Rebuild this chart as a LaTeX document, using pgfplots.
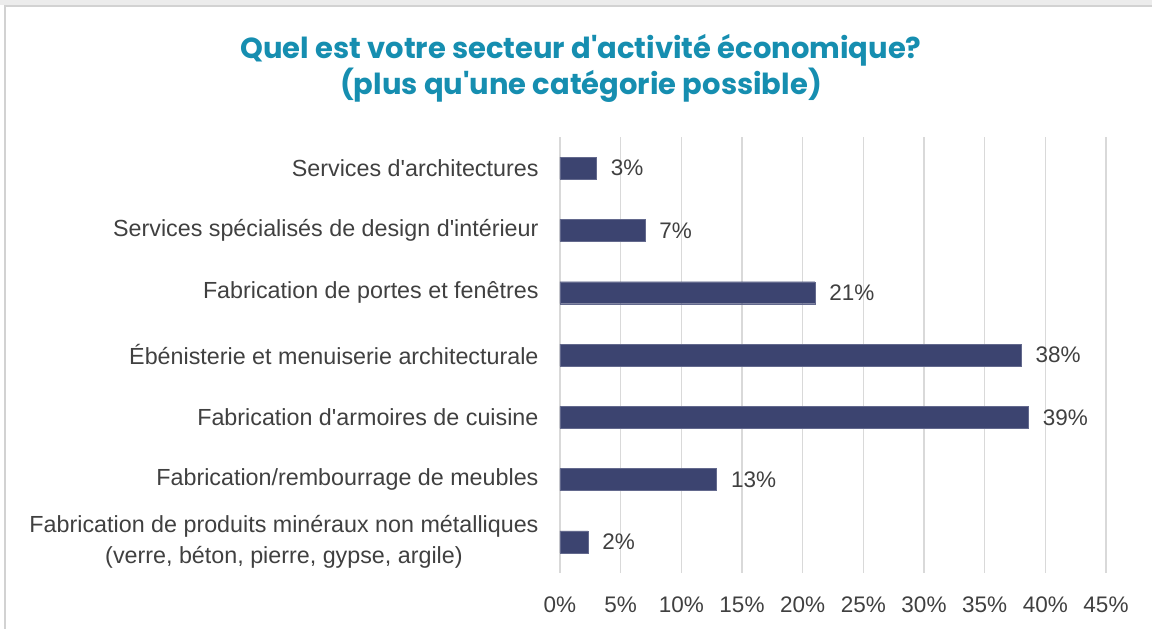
\documentclass[border=0pt]{standalone}
\usepackage{pgfplots}
\pgfplotsset{compat=1.18}
\usepackage{fontspec}
\setmainfont{Liberation Sans}[Ligatures=TeXOff]
\newfontfamily\titlefont{Poppins}
\definecolor{barc}{RGB}{60,68,112}
\definecolor{titlec}{RGB}{22,142,176}
\definecolor{txt}{RGB}{64,64,64}
\definecolor{gridc}{RGB}{217,217,217}
\begin{document}
\begin{tikzpicture}
\useasboundingbox (0pt,0pt) rectangle (1152pt,629pt);
\fill[gray!15] (0pt,624pt) rectangle (1152pt,629pt);
\draw[gray!35, line width=1.5pt] (5pt,0pt) -- (5pt,623pt) -- (1152pt,623pt);
\node[text=titlec, align=center, font=\titlefont\bfseries\fontsize{29}{36}\selectfont] at (581pt,561pt) {Quel est votre secteur d'activité économique?\\(plus qu'une catégorie possible)};
\begin{axis}[
  at={(560pt,56pt)}, anchor=south west,
  scale only axis, width=546pt, height=436pt,
  xbar, bar width=22pt,
  xmin=0, xmax=45, ymin=-0.5, ymax=6.5,
  y dir=reverse,
  axis line style={draw=none},
  xtick={0,5,...,45},
  xticklabel={\pgfmathprintnumber{\tick}\%},
  xmajorgrids, major grid style={gridc, line width=1.5pt},
  major tick length=0pt,
  ytick={0,...,6},
  yticklabels={Services d'architectures, Services spécialisés de design d'intérieur, Fabrication de portes et fenêtres, Ébénisterie et menuiserie architecturale, Fabrication d'armoires de cuisine, Fabrication/rembourrage de meubles, {Fabrication de produits minéraux non métalliques\\(verre, béton, pierre, gypse, argile)}},
  yticklabel style={align=center, text=txt, font=\fontsize{23.3}{31}\selectfont, xshift=-18pt},
  xticklabel style={text=txt, font=\fontsize{22.5}{27}\selectfont, yshift=-20pt},
  /pgf/number format/assume math mode=true,
  nodes near coords={\pgfmathprintnumber{\pgfplotspointmeta}\%},
  nodes near coords style={anchor=west, text=txt, font=\fontsize{22.5}{27}\selectfont, xshift=11pt},
  point meta=explicit,
  clip=false,
]
\addplot[fill=barc, draw=barc!80!white] coordinates {(3,0) [3] (7,1) [7] (21,2) [21] (38,3) [38] (38.6,4) [39] (12.9,5) [13] (2.3,6) [2]};
\end{axis}
\end{tikzpicture}
\end{document}
